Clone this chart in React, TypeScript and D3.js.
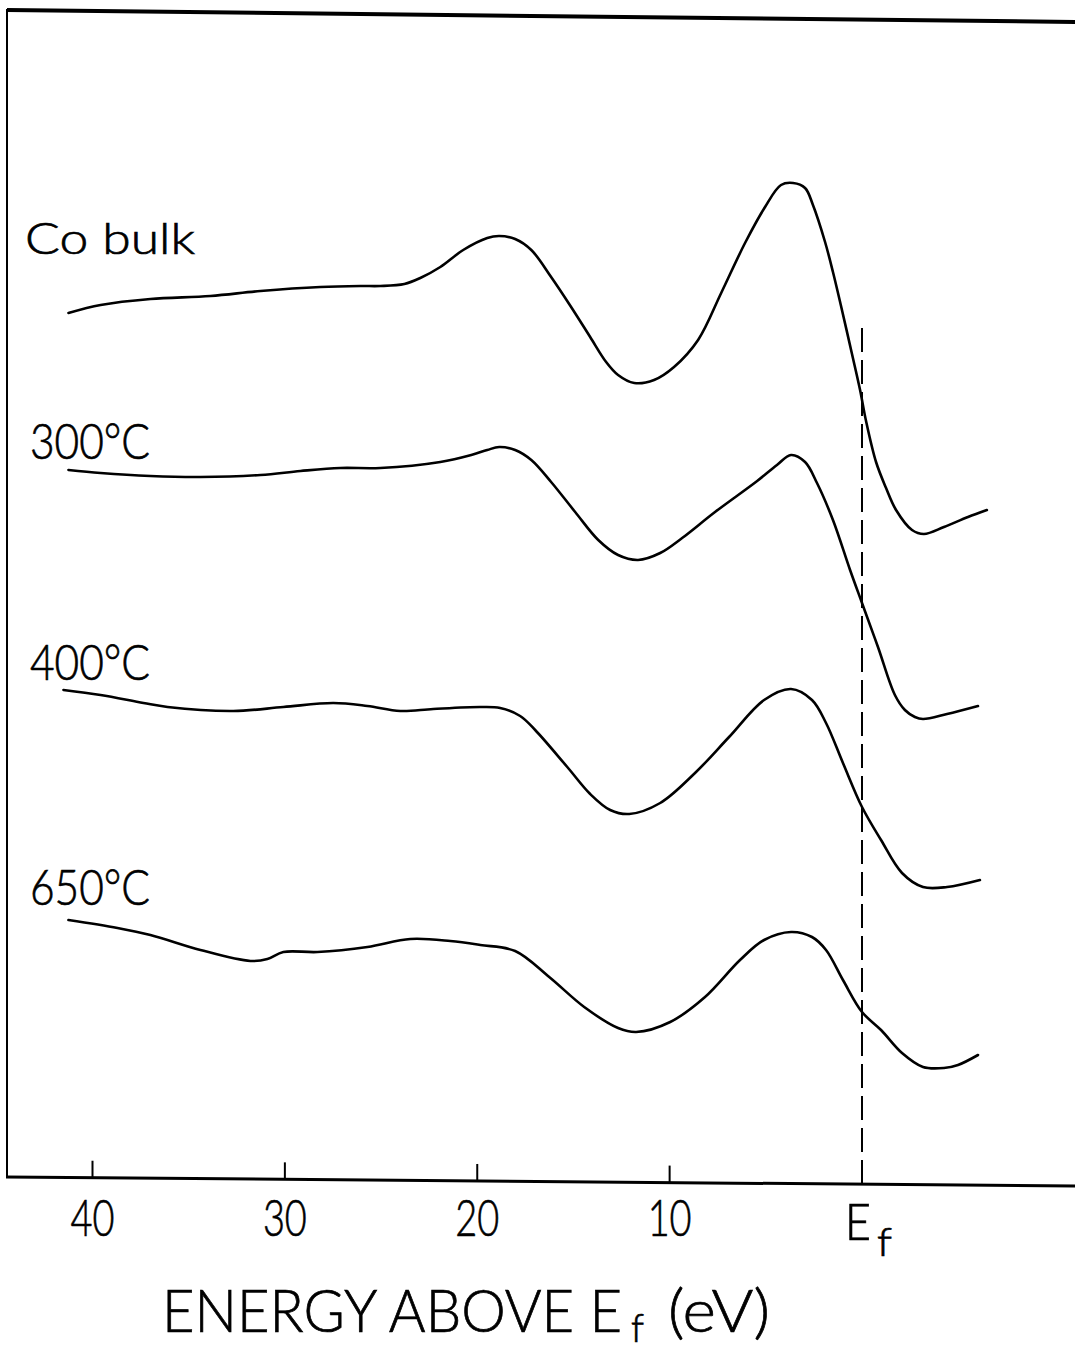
import React from "react";
import * as d3 from "d3";

// Energy above Ef (eV) and intensity (arbitrary units, curves offset vertically)
const coBulk: [number, number][] = [
  [41.25, 86.7], [39.58, 87.5], [36.99, 88.1], [33.87, 88.4], [31.27, 88.9], [28.16, 89.3],
  [26.08, 89.4], [25.04, 89.4], [23.79, 89.6], [22.96, 90.2], [21.92, 91.3], [20.73, 93.0],
  [19.48, 94.2], [18.86, 94.4], [18.03, 94.1], [17.19, 93.0], [16.16, 90.3], [15.12, 87.3],
  [14.13, 84.3], [13.3, 81.8], [12.68, 80.5], [11.84, 79.7], [10.81, 80.0], [9.77, 81.3],
  [8.52, 84.0], [7.32, 88.7], [6.08, 93.7], [5.04, 97.3], [4.21, 99.5], [3.58, 99.7],
  [2.96, 99.2], [2.55, 97.5], [1.92, 93.8], [1.51, 90.8], [1.09, 87.4], [0.52, 82.6],
  [0.1, 79.0], [-0.21, 75.9], [-0.73, 71.8], [-1.25, 69.2], [-1.77, 67.0], [-2.6, 65.0],
  [-3.22, 64.6], [-4.26, 65.3], [-5.51, 66.3], [-6.49, 67.0],
];

const c300: [number, number][] = [
  [41.25, 71.0], [39.58, 70.7], [36.99, 70.4], [34.39, 70.3], [31.27, 70.5], [29.19, 70.9],
  [27.12, 71.2], [25.04, 71.2], [21.92, 71.8], [20.31, 72.5], [19.48, 73.0], [18.86, 73.3],
  [18.03, 73.0], [17.19, 72.0], [16.16, 69.8], [14.91, 66.8], [13.71, 64.0], [12.68, 62.5],
  [11.64, 62.0], [10.49, 62.7], [9.35, 64.2], [7.64, 66.8], [5.45, 69.9], [4.42, 71.5],
  [3.69, 72.5], [2.96, 71.8], [2.34, 69.7], [1.51, 66.0], [0.62, 61.0], [0.0, 57.7],
  [-0.83, 53.3], [-1.71, 48.5], [-2.23, 47.0], [-2.75, 46.3], [-3.17, 46.1], [-4.42, 46.6],
  [-6.03, 47.4],
];

const c400: [number, number][] = [
  [41.51, 49.0], [39.58, 48.5], [37.35, 47.7], [36.1, 47.3], [32.68, 46.9], [30.08, 47.3],
  [27.48, 47.7], [25.71, 47.4], [24.0, 46.9], [22.29, 47.1], [19.84, 47.3], [18.81, 47.2],
  [17.77, 46.4], [16.99, 45.0], [15.32, 41.3], [14.13, 38.6], [13.09, 37.0], [12.1, 36.6],
  [10.49, 37.7], [8.68, 40.7], [6.91, 44.3], [5.09, 48.0], [3.69, 49.1], [2.6, 48.0],
  [1.87, 45.7], [0.99, 41.7], [0.0, 37.3], [-0.99, 34.0], [-2.08, 30.7], [-3.17, 29.3],
  [-4.42, 29.3], [-6.13, 30.0],
];

const c650: [number, number][] = [
  [41.25, 26.0], [38.7, 25.2], [36.99, 24.5], [34.39, 23.0], [31.79, 21.9], [30.91, 22.1],
  [30.08, 22.8], [28.31, 22.8], [25.71, 23.3], [23.48, 24.1], [21.4, 23.9], [19.84, 23.5],
  [18.03, 22.9], [16.26, 20.3], [14.44, 17.3], [12.68, 15.2], [11.74, 14.8], [9.97, 15.8],
  [8.16, 18.3], [6.34, 22.0], [5.09, 24.0], [3.69, 24.8], [2.6, 24.3], [1.87, 23.0],
  [0.99, 20.0], [0.0, 16.8], [-0.99, 15.0], [-2.08, 12.7], [-3.17, 11.3], [-4.26, 11.2],
  [-4.99, 11.5], [-6.03, 12.5],
];

const series = [coBulk, c300, c400, c650];
const seriesLabels = ["Co bulk", "300°C", "400°C", "650°C"];
const labelValues = [92.6, 72.1, 50.0, 27.5]; // label baselines in intensity units
const labelWidths = [170, 120, 120, 120];
const tickValues = [40, 30, 20, 10];
const tickLabels = ["40", "30", "20", "10"];
const fermiTop = 85.2;

const W = 1075;
const H = 1353;

export default function App() {
  const x = d3.scaleLinear().domain([40, 0]).range([92.5, 862]);
  const y = d3.scaleLinear().domain([0, 117]).range([1180, 10]);
  const axisY = (px: number) => 1177 + ((px - 6) * 9) / 1069;
  const line = d3
    .line<[number, number]>()
    .x((d) => x(d[0]))
    .y((d) => y(d[1]))
    .curve(d3.curveCatmullRom.alpha(0.5));
  const font = "Lato, 'Open Sans', 'DejaVu Sans', sans-serif";
  const fw = 300;
  const ts = { stroke: "#000", strokeWidth: 0.7 };
  const x0 = x(0);

  return (
    <svg
      width={W}
      height={H}
      style={{ position: "absolute", left: 0, top: 0, background: "#fff" }}
    >
      <rect x={0} y={0} width={W} height={H} fill="#fff" />
      {/* frame */}
      <line x1={7} y1={10} x2={W} y2={22} stroke="#000" strokeWidth={4} />
      <line x1={7} y1={9} x2={7} y2={axisY(7)} stroke="#000" strokeWidth={2} />
      <line x1={6} y1={axisY(6)} x2={W} y2={axisY(W)} stroke="#000" strokeWidth={3} />
      {/* ticks */}
      {tickValues.map((t, i) => (
        <g key={t}>
          <line
            x1={x(t)}
            x2={x(t)}
            y1={axisY(x(t))}
            y2={axisY(x(t)) - 17}
            stroke="#000"
            strokeWidth={2}
          />
          <text
            x={x(t) - 22}
            y={1236}
            fontFamily={font}
            fontWeight={fw}
            fontSize={52}
            textLength={44}
            lengthAdjust="spacingAndGlyphs"
            fill="#000"
            {...ts}
          >
            {tickLabels[i]}
          </text>
        </g>
      ))}
      {/* Ef tick label */}
      <text fontFamily={font} fontWeight={fw} {...ts}>
        <tspan x={x0 - 17} y={1240} fontSize={52} textLength={26} lengthAdjust="spacingAndGlyphs">E</tspan>
        <tspan x={x0 + 15} y={1256} fontSize={40} textLength={15} lengthAdjust="spacingAndGlyphs">f</tspan>
      </text>
      {/* Fermi level dashed line */}
      <line
        x1={x0}
        x2={x0}
        y1={y(fermiTop)}
        y2={axisY(x0)}
        stroke="#000"
        strokeWidth={2}
        strokeDasharray="24 8"
      />
      {/* curves */}
      {series.map((s, i) => (
        <path key={i} d={line(s) ?? ""} fill="none" stroke="#000" strokeWidth={2.6} strokeLinejoin="round" strokeLinecap="round" />
      ))}
      {/* curve labels */}
      {seriesLabels.map((l, i) => (
        <text
          key={l}
          x={i === 0 ? 25 : 30}
          y={y(labelValues[i])}
          fontFamily={font}
          fontWeight={fw}
          fontSize={i === 0 ? 44 : 50}
          textLength={labelWidths[i]}
          lengthAdjust="spacingAndGlyphs"
          fill="#000"
          {...ts}
        >
          {l}
        </text>
      ))}
      {/* axis title */}
      <text fontFamily={font} fontWeight={fw} {...ts}>
        <tspan x={162} y={1332} fontSize={60} textLength={460} lengthAdjust="spacingAndGlyphs">ENERGY ABOVE E</tspan>
        <tspan x={631} y={1342} fontSize={40} textLength={13} lengthAdjust="spacingAndGlyphs">f</tspan>
        <tspan x={668} y={1332} fontSize={60} textLength={102} lengthAdjust="spacingAndGlyphs">(eV)</tspan>
      </text>
    </svg>
  );
}
